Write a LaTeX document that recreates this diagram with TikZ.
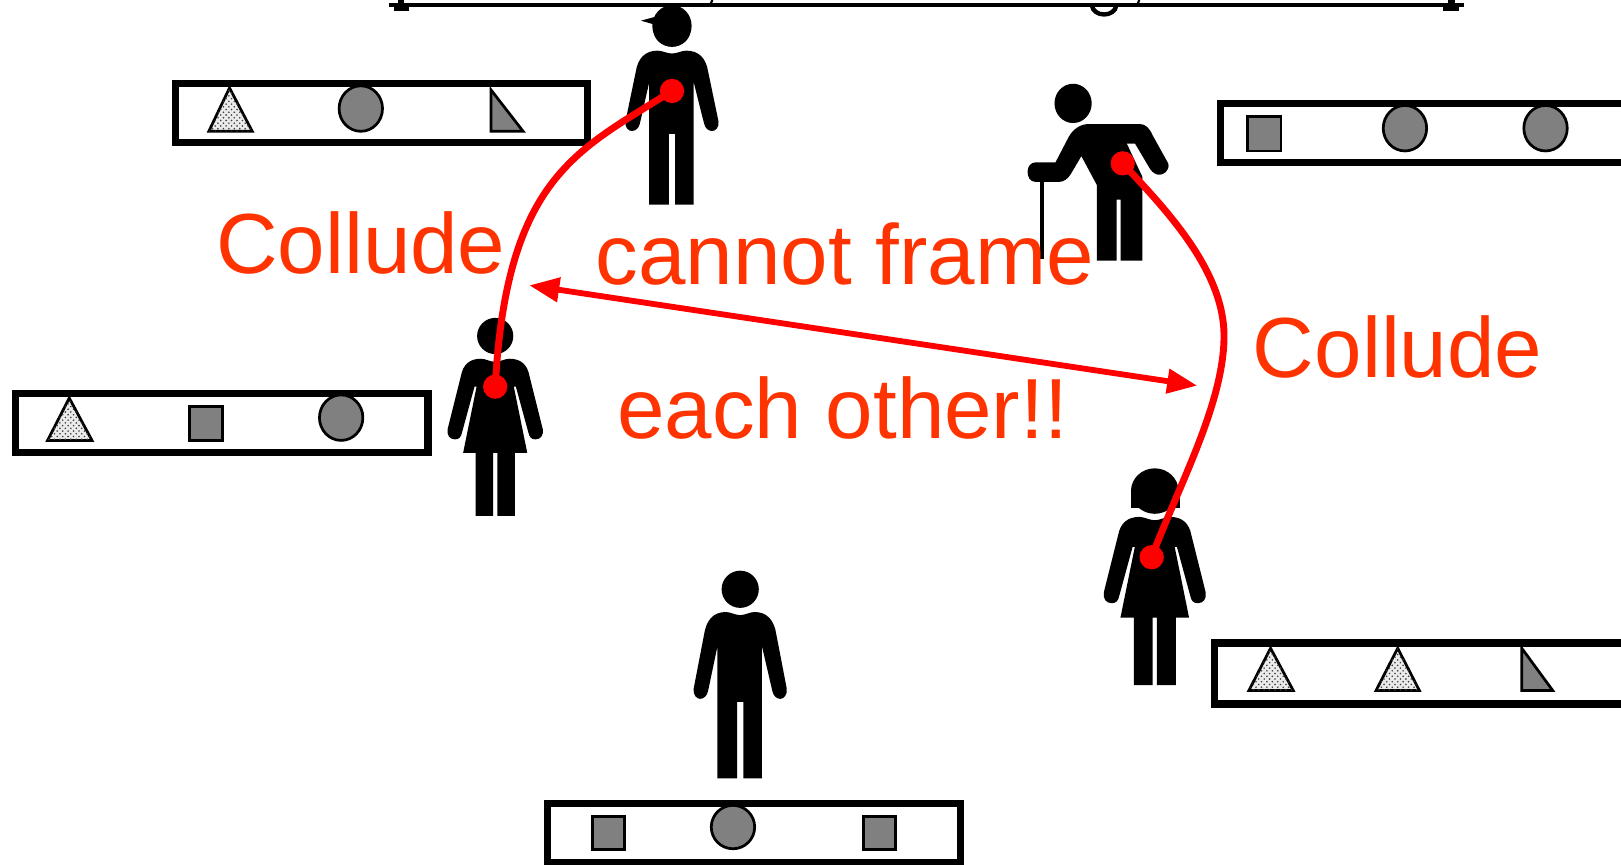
\documentclass[tikz,border=0pt]{standalone}
\usepackage{fontspec}
\setmainfont{Liberation Sans}
\usetikzlibrary{arrows.meta,patterns}
\definecolor{saytext}{HTML}{FF3300}
\tikzset{
    sharebar/.style={draw=black, fill=white, line width=3.9pt},
    darktoken/.style={draw=black, fill=black!50, line width=1.5pt},
    lighttoken/.style={draw=black, fill=black!8, postaction={pattern=crosshatch dots, pattern color=black!75}, line width=1.5pt},
    saylabel/.style={text=saytext, font=\fontsize{47}{50}\selectfont, inner sep=0pt, anchor=base},
    reddot/.style={circle, fill=red, inner sep=0pt, minimum size=0.47cm},
    colludeline/.style={draw=red, line width=3.8pt},
    manfig/.pic={
        \fill (0,-22) circle (18);
        \fill (0,3) .. controls (-5,3) and (-9,0) .. (-14,0) .. controls (-26,0) and (-33,8) .. (-35,22)
            -- (-45,74) .. controls (-46,80) and (-42,84) .. (-39,84) .. controls (-35,84) and (-32,81) .. (-31,76)
            -- (-22,33) -- (-22,161) -- (-3,161) -- (-3,87) -- (3,87) -- (3,161) -- (21,161) -- (21,33)
            -- (31,76) .. controls (32,81) and (35,84) .. (39,84) .. controls (42,84) and (46,80) .. (45,74)
            -- (35,22) .. controls (33,8) and (26,0) .. (14,0) .. controls (9,0) and (5,3) .. (0,3) -- cycle;
    },
    womanfig/.pic={
        \fill (0,-22) circle (17.5);
        \fill (0,3) .. controls (-5,3) and (-9,0) .. (-14,0) .. controls (-25,0) and (-31,6) .. (-33,16)
            -- (-46,68) .. controls (-47,74) and (-44,78) .. (-39,78) .. controls (-35,78) and (-33,76) .. (-32,71)
            -- (-20,27) -- (-18,27) -- (-31,91) -- (-19,91) -- (-19,152) -- (-2,152) -- (-2,91) -- (2,91)
            -- (2,152) -- (19,152) -- (19,91) -- (31,91) -- (18,27) -- (20,27)
            -- (32,71) .. controls (33,76) and (35,78) .. (39,78) .. controls (44,78) and (47,74) .. (46,68)
            -- (33,16) .. controls (31,6) and (25,0) .. (14,0) .. controls (9,0) and (5,3) .. (0,3) -- cycle;
    }
}

\begin{document}
\begin{tikzpicture}[x=0.02cm, y=-0.02cm]
    \useasboundingbox (0,0) rectangle (1568,836);

    % cut-off bar at the top
    \draw[line width=2pt] (376,5) -- (1416,5);
    \fill (381,5) rectangle (396,11);
    \fill (385,0) rectangle (391,5);
    \fill (1396,5) rectangle (1411,11);
    \fill (1401,0) rectangle (1407,5);
    \draw[line width=1.2pt] (689,0) -- (687,5);
    \draw[line width=1.2pt] (1102,0) -- (1100,5);
    \draw[line width=2.4pt] (1056,5) .. controls (1058,17) and (1078,17) .. (1080,5);

    % top left
    \draw[sharebar] (170,81) rectangle (568,138);
    \draw[lighttoken] (222,85) -- (244,127) -- (202,127) -- cycle;
    \draw[darktoken] (349,105) ellipse (21 and 22);
    \draw[darktoken] (475,87) -- (506,127) -- (475,127) -- cycle;

    % top right
    \draw[sharebar] (1181,100) rectangle (1575,157);
    \draw[darktoken] (1207,113) rectangle (1239,146);
    \draw[darktoken] (1359,124) ellipse (21 and 22);
    \draw[darktoken] (1495,124) ellipse (21 and 22);

    % left
    \draw[sharebar] (15,381) rectangle (414,438);
    \draw[lighttoken] (67,385) -- (89,426) -- (46,426) -- cycle;
    \draw[darktoken] (183,393) rectangle (215,426);
    \draw[darktoken] (330,404) ellipse (21 and 22);

    % lower right
    \draw[sharebar] (1175,622) rectangle (1575,681);
    \draw[lighttoken] (1229,627) -- (1251,668) -- (1208,668) -- cycle;
    \draw[lighttoken] (1352,627) -- (1373,668) -- (1331,668) -- cycle;
    \draw[darktoken] (1472,627) -- (1502,668) -- (1472,668) -- cycle;

    % bottom
    \draw[sharebar] (530,777) rectangle (929,834);
    \draw[darktoken] (573,790) rectangle (604,822);
    \draw[darktoken] (709,800) circle (21);
    \draw[darktoken] (835,790) rectangle (866,822);

    % people
    \pic at (650,49) [yscale=0.925] {manfig};
    \fill (650,25) ellipse (19 and 20);
    \fill (642,14) -- (620,20) -- (634,24) -- cycle;
    \pic at (716,592) {manfig};
    \pic at (479,347) {womanfig};
    \pic at (1117,500) [scale=1.07] {womanfig};
    \fill (1117,475) ellipse (23 and 22);
    \fill (1094,474) rectangle (1141,491);
    \fill (1038,100) ellipse (18 and 19);
    \fill (1053,120) -- (1103,120) .. controls (1108,120) and (1112,124) .. (1115,131) -- (1130,158)
        .. controls (1132,165) and (1125,170) .. (1120,169) .. controls (1116,168) and (1113,165) .. (1111,161)
        -- (1098,139) -- (1090,139) -- (1105,171) -- (1105,252) -- (1084,252) -- (1084,193) -- (1080,193)
        -- (1080,252) -- (1061,252) -- (1061,179) -- (1046,151) -- (1036,168)
        .. controls (1033,173) and (1029,176) .. (1024,176) -- (1002,176)
        .. controls (996,176) and (994,171) .. (994,166) .. controls (994,161) and (997,157) .. (1002,157)
        -- (1021,157) -- (1034,132) .. controls (1038,125) and (1045,120) .. (1053,120) -- cycle;
    \fill (1006,175) rectangle (1010,251);

    \node[saylabel] (colludeleft) at (349,265) {Collude};
    \node[saylabel] (colluderight) at (1352,365) {Collude};
    \node[saylabel] (cannotframe) at (817,275) {cannot frame};
    \node[saylabel] (eachother) at (815,424) {each other!!};

    \node[reddot] (dotcap) at (650,88) {};
    \node[reddot] (dotleft) at (479,374) {};
    \node[reddot] (dotcane) at (1086,158) {};
    \node[reddot] (dothair) at (1114,539) {};
    \coordinate (bendright) at (1184,325);
    \coordinate (arrowleft) at (512,276);
    \coordinate (arrowright) at (1158,373);

    \draw[colludeline] (dotcap.center) .. controls (560,145) and (490,170) .. (dotleft.center);
    \draw[colludeline] (dotcane.center) .. controls (1125,200) and (1184,260) .. (bendright)
        .. controls (1184,390) and (1140,470) .. (dothair.center);
    \draw[red, line width=3.2pt, {Stealth[length=0.58cm,width=0.46cm,inset=0pt]}-{Stealth[length=0.58cm,width=0.46cm,inset=0pt]}] (arrowleft) -- (arrowright);
\end{tikzpicture}
\end{document}
